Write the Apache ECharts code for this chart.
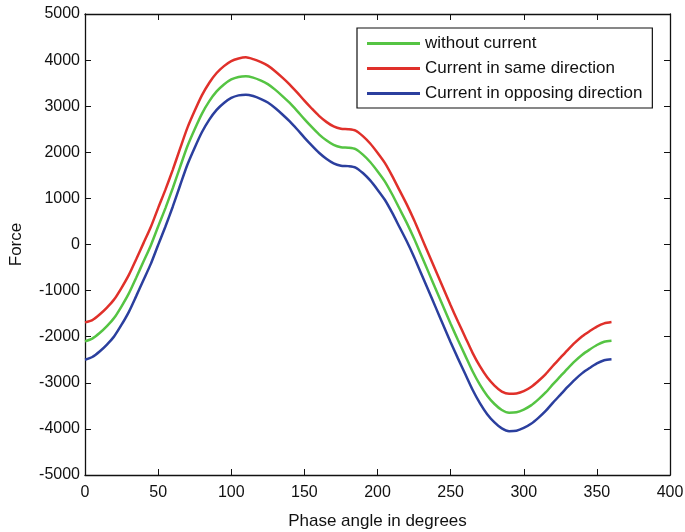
<!DOCTYPE html>
<html><head><meta charset="utf-8">
<script src="https://cdn.jsdelivr.net/npm/echarts@6/dist/echarts.min.js"></script>
<style>html,body{margin:0;padding:0;background:#fff}#c{width:685px;height:532px}</style>
</head><body><div id="c"></div>
<script>
var angles = [0,5,10,15,20,25,30,35,40,45,50,55,60,65,70,75,80,85,90,95,100,105,110,115,120,125,130,135,140,145,150,155,160,165,170,175,180,185,190,195,200,205,210,215,220,225,230,235,240,245,250,255,260,265,270,275,280,285,290,295,300,305,310,315,320,325,330,335,340,345,350,355,360];
var withoutCurrent = [-2100,-2040,-1920,-1770,-1590,-1340,-1060,-720,-370,-20,390,790,1220,1680,2130,2500,2840,3110,3320,3470,3580,3635,3650,3620,3560,3480,3360,3220,3070,2900,2720,2550,2390,2260,2160,2110,2100,2070,1950,1790,1590,1370,1090,780,470,130,-240,-610,-980,-1350,-1720,-2070,-2410,-2750,-3040,-3280,-3460,-3590,-3650,-3640,-3580,-3490,-3360,-3210,-3030,-2860,-2690,-2530,-2390,-2280,-2180,-2110,-2090];
var sameDirection = [-1690,-1640,-1520,-1370,-1190,-940,-660,-320,30,380,790,1190,1620,2080,2530,2900,3240,3510,3720,3870,3980,4035,4060,4020,3960,3880,3760,3620,3470,3300,3120,2950,2790,2660,2560,2510,2500,2470,2350,2190,1990,1770,1490,1180,870,530,160,-210,-580,-950,-1320,-1670,-2010,-2350,-2640,-2880,-3060,-3190,-3240,-3230,-3180,-3090,-2960,-2810,-2630,-2460,-2290,-2130,-1990,-1880,-1780,-1710,-1680];
var opposingDirection = [-2500,-2440,-2320,-2170,-1990,-1740,-1460,-1120,-770,-420,-10,390,820,1280,1730,2100,2440,2710,2920,3070,3180,3235,3250,3220,3160,3080,2960,2820,2670,2500,2320,2150,1990,1860,1760,1710,1700,1670,1550,1390,1190,970,690,380,70,-270,-640,-1010,-1380,-1750,-2120,-2470,-2810,-3150,-3440,-3680,-3860,-3990,-4050,-4040,-3980,-3890,-3760,-3610,-3430,-3260,-3090,-2930,-2790,-2680,-2580,-2510,-2490];
var seriesNames = ['without current','Current in same direction','Current in opposing direction'];
var colors = ['#55c443','#e0302a','#2b3f9e'];
var xTicks = {min:0,max:400,interval:50};
var yTicks = {min:-5000,max:5000,interval:1000};

function pairs(v){ return angles.map(function(a,i){return [a,v[i]];}); }
var chart = echarts.init(document.getElementById('c'));
var FF = 'Liberation Sans, Arial, sans-serif';
function axBase(pos, showLabel){
  var isX = (pos==='bottom'||pos==='top');
  var t = isX ? xTicks : yTicks;
  return {
    type:'value', position:pos, min:t.min, max:t.max, interval:t.interval,
    axisLine:{show:true,onZero:false,lineStyle:{color:'#111',width:1.3}},
    axisTick:{show:true,inside:true,length:6,lineStyle:{color:'#111',width:1}},
    axisLabel:{show:showLabel,color:'#111',fontFamily:FF,fontSize:16,margin:isX?10:5,
      formatter:function(v){return String(v);}},
    splitLine:{show:false}
  };
}
var xb = axBase('bottom',true); xb.name='Phase angle in degrees'; xb.nameLocation='middle'; xb.nameGap=38; xb.nameTextStyle={fontFamily:FF,fontSize:17,color:'#111'};
var yl = axBase('left',true); yl.name='Force'; yl.nameLocation='middle'; yl.nameGap=60; yl.nameTextStyle={fontFamily:FF,fontSize:17,color:'#111'};
var xt = axBase('top',false); var yr = axBase('right',false);
chart.setOption({
  animation:false,
  backgroundColor:'#fff',
  grid:{left:85,right:15,top:14,bottom:57,containLabel:false,outerBoundsMode:'none'},
  xAxis:[xb,xt],
  yAxis:[yl,yr],
  legend:{
    orient:'vertical', left:357, top:28, data:seriesNames,
    backgroundColor:'#fff', borderColor:'#111', borderWidth:1.2, borderRadius:0,
    padding:[7,10,6,10], itemGap:8, itemWidth:53, itemHeight:3, icon:'rect',
    textStyle:{fontFamily:FF,fontSize:17,color:'#111'}
  },
  series: [withoutCurrent,sameDirection,opposingDirection].map(function(v,i){
    return {name:seriesNames[i],type:'line',data:pairs(v),showSymbol:false,smooth:0.25,
      xAxisIndex:0,yAxisIndex:0,color:colors[i],lineStyle:{color:colors[i],width:2.5}};
  })
});
</script></body></html>
